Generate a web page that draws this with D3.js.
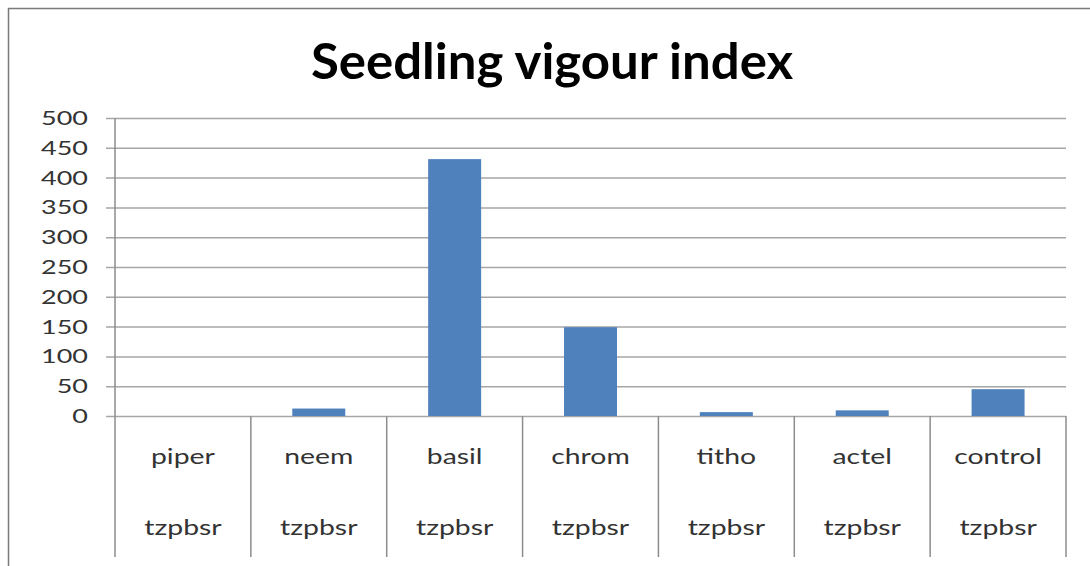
<!DOCTYPE html>
<html>
<head>
<meta charset="utf-8">
<script src="https://cdn.jsdelivr.net/npm/d3@7"></script>
<style>
body { margin: 0; background: #fff; }
text { font-family: Lato, "Open Sans", sans-serif; fill: #333; }
</style>
</head>
<body>
<div id="chart"></div>
<script>
// chart data
var categories = ["piper", "neem", "basil", "chrom", "titho", "actel", "control"];
var groupLabel = "tzpbsr";
var values = [0, 12.5, 431, 149, 6.5, 9.5, 45];
var yTicks = [0, 50, 100, 150, 200, 250, 300, 350, 400, 450, 500];
var title = "Seedling vigour index";

var size = { width: 1090, height: 566 };
var plot = { left: 115, right: 1066, top: 118, bottom: 416 };

var svg = d3.select("#chart").append("svg")
	.attr("width", size.width)
	.attr("height", size.height);

// outer frame
svg.append("rect")
	.attr("x", 8.5).attr("y", 8.5)
	.attr("width", 1200).attr("height", 700)
	.attr("fill", "none")
	.attr("stroke", "#7a7a7a")
	.attr("stroke-width", 1.5);

var x = d3.scaleBand()
	.domain(categories)
	.range([plot.left, plot.right])
	.padding(0);

var y = d3.scaleLinear()
	.domain([0, 500])
	.range([plot.bottom, plot.top]);

// gridlines + ticks
var yAxis = d3.axisLeft(y)
	.tickValues(yTicks)
	.tickSize(plot.right - plot.left + 9)
	.tickFormat(d3.format("d"));

var yg = svg.append("g")
	.attr("transform", "translate(" + plot.right + ",0)")
	.call(yAxis);
yg.select(".domain").remove();
yg.selectAll(".tick line").attr("stroke", "#a6a6a6").attr("stroke-width", 1.5);
yg.selectAll(".tick text").remove();

// tick labels (the picture is stretched sideways)
yTicks.forEach(function(t) {
	svg.append("text")
		.attr("transform", "translate(88," + (y(t) + 7) + ") scale(1.42,1)")
		.attr("text-anchor", "end")
		.style("font-size", "19px")
		.text(t);
});

// left axis line
svg.append("line")
	.attr("x1", plot.left).attr("x2", plot.left)
	.attr("y1", plot.top).attr("y2", 557)
	.attr("stroke", "#8c8c8c").attr("stroke-width", 1.5);

// category dividers
categories.forEach(function(c) {
	svg.append("line")
		.attr("x1", x(c) + x.bandwidth()).attr("x2", x(c) + x.bandwidth())
		.attr("y1", plot.bottom).attr("y2", 557)
		.attr("stroke", "#8c8c8c").attr("stroke-width", 1.5);
});

// bars
var barW = x.bandwidth() * 0.39;
svg.selectAll(".bar")
	.data(values)
	.enter()
	.append("rect")
	.attr("class", "bar")
	.attr("x", function(d, i) { return x(categories[i]) + (x.bandwidth() - barW) / 2; })
	.attr("y", function(d) { return y(d); })
	.attr("width", barW)
	.attr("height", function(d) { return plot.bottom - y(d); })
	.attr("fill", "#4f81bd");

// category labels
categories.forEach(function(c) {
	var cx = x(c) + x.bandwidth() / 2;
	svg.append("text")
		.attr("transform", "translate(" + cx + ",464) scale(1.32,1)")
		.attr("text-anchor", "middle")
		.style("font-size", "21.5px")
		.text(c);
	svg.append("text")
		.attr("transform", "translate(" + cx + ",535) scale(1.32,1)")
		.attr("text-anchor", "middle")
		.style("font-size", "21.5px")
		.text(groupLabel);
});

// title
svg.append("text")
	.attr("transform", "translate(552,79) scale(1.04,1)")
	.attr("text-anchor", "middle")
	.style("font-size", "49px")
	.style("font-weight", "bold")
	.style("fill", "#000")
	.text(title);
</script>
</body>
</html>
